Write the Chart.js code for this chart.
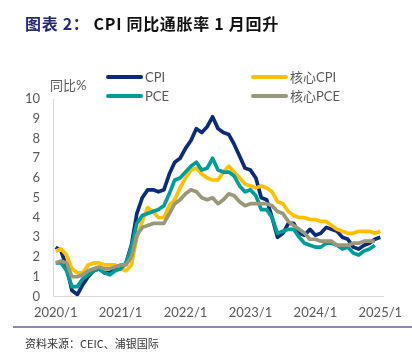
<!DOCTYPE html>
<html>
<head>
<meta charset="utf-8">
<script src="https://cdn.jsdelivr.net/npm/chart.js@4.4.1/dist/chart.umd.min.js"></script>
<style>
  html, body { margin: 0; padding: 0; background: #ffffff; }
  #wrap { position: relative; width: 412px; height: 356px; overflow: hidden; }
  #c { position: absolute; left: 0; top: 0; }
  #title { position: absolute; left: 25px; top: 12px; font-family: "Noto Sans CJK SC", sans-serif; font-weight: bold; font-size: 16px; color: #111111; white-space: nowrap; line-height: 22px; letter-spacing: 0.7px; }
  #title .lead { color: #27277A; margin-right: 4px; }
  #rule { position: absolute; left: 13px; right: 0; top: 326px; height: 2px; background: #8E88B3; }
  #source { position: absolute; left: 25px; top: 335px; font-family: "Noto Sans CJK SC", sans-serif; font-size: 11px; color: #333333; white-space: nowrap; line-height: 16px; }
</style>
</head>
<body>
<div id="wrap">
  <canvas id="c" width="412" height="356"></canvas>
  <div id="title"><span class="lead">图表 2：</span>CPI 同比通胀率 1 月回升</div>
  <div id="rule"></div>
  <div id="source">资料来源：CEIC、浦银国际</div>
</div>
<script>
const months = [
  '2020/1','2020/2','2020/3','2020/4','2020/5','2020/6','2020/7','2020/8','2020/9','2020/10','2020/11','2020/12',
  '2021/1','2021/2','2021/3','2021/4','2021/5','2021/6','2021/7','2021/8','2021/9','2021/10','2021/11','2021/12',
  '2022/1','2022/2','2022/3','2022/4','2022/5','2022/6','2022/7','2022/8','2022/9','2022/10','2022/11','2022/12',
  '2023/1','2023/2','2023/3','2023/4','2023/5','2023/6','2023/7','2023/8','2023/9','2023/10','2023/11','2023/12',
  '2024/1','2024/2','2024/3','2024/4','2024/5','2024/6','2024/7','2024/8','2024/9','2024/10','2024/11','2024/12',
  '2025/1'
];
const tickLabels = ['2020/1','2021/1','2022/1','2023/1','2024/1','2025/1'];
const yTicks = [0,1,2,3,4,5,6,7,8,9,10];

const cpi = [
  2.5,2.3,1.5,0.3,0.1,0.6,1.0,1.3,1.4,1.2,1.2,1.4,
  1.4,1.7,2.6,4.2,5.0,5.4,5.4,5.3,5.4,6.2,6.8,7.0,
  7.5,7.9,8.5,8.3,8.6,9.1,8.5,8.3,8.2,7.7,7.1,6.5,
  6.4,6.0,5.0,4.9,4.0,3.0,3.2,3.7,3.7,3.2,3.1,3.4,
  3.1,3.2,3.5,3.4,3.3,3.0,2.9,2.5,2.4,2.6,2.7,2.9,
  3.0
];
const coreCpi = [
  2.3,2.4,2.1,1.4,1.2,1.2,1.6,1.7,1.7,1.6,1.6,1.6,
  1.4,1.3,1.6,3.0,3.8,4.5,4.3,4.0,4.0,4.6,4.9,5.5,
  6.0,6.4,6.5,6.2,6.0,5.9,5.9,6.3,6.6,6.3,6.0,5.7,
  5.6,5.5,5.6,5.5,5.3,4.8,4.7,4.3,4.1,4.0,4.0,3.9,
  3.9,3.8,3.8,3.6,3.4,3.3,3.2,3.2,3.3,3.3,3.3,3.2,
  3.3
];
const pce = [
  1.7,1.7,1.3,0.5,0.5,0.9,1.1,1.3,1.4,1.2,1.1,1.3,
  1.4,1.7,2.5,3.7,4.1,4.2,4.3,4.4,4.6,5.2,5.9,6.0,
  6.3,6.6,6.8,6.4,6.5,7.0,6.4,6.3,6.3,6.1,5.6,5.3,
  5.4,5.1,4.4,4.4,4.0,3.2,3.3,3.4,3.4,3.0,2.7,2.6,
  2.5,2.5,2.7,2.7,2.6,2.4,2.5,2.2,2.1,2.3,2.4,2.6
];
const corePce = [
  1.7,1.8,1.7,1.0,1.0,1.1,1.3,1.4,1.5,1.4,1.4,1.5,
  1.6,1.6,2.0,3.1,3.5,3.6,3.7,3.7,3.7,4.2,4.7,4.9,
  5.2,5.4,5.3,5.0,4.9,5.0,4.7,4.9,5.2,5.1,4.8,4.6,
  4.7,4.7,4.7,4.7,4.6,4.3,4.2,3.8,3.6,3.4,3.2,2.9,
  2.9,2.8,2.8,2.8,2.6,2.6,2.6,2.7,2.7,2.8,2.8,2.8
];

const seriesNames = ['CPI','核心CPI','PCE','核心PCE'];
const seriesColors = ['#0B2B7D','#FFC000','#009E9A','#99987A'];
const seriesData = [cpi, coreCpi, pce, corePce];

const TICK_FONT = '"Lato", "Noto Sans CJK SC", sans-serif';
const GRAY = '#595959';

// legend + y-axis title drawn on canvas
const legendSlots = [
  {x: 108, y: 77}, {x: 253, y: 77}, {x: 108, y: 96}, {x: 253, y: 96}
];
const extrasPlugin = {
  id: 'extras',
  afterDraw(chart) {
    const ctx = chart.ctx;
    ctx.save();
    ctx.font = '13px ' + TICK_FONT;
    ctx.fillStyle = GRAY;
    ctx.textBaseline = 'middle';
    ctx.textAlign = 'left';
    ctx.fillText('同比%', 50, 86);
    chart.data.datasets.forEach((ds, i) => {
      const s = legendSlots[i];
      ctx.strokeStyle = ds.borderColor;
      ctx.lineWidth = 4;
      ctx.lineCap = 'round';
      ctx.beginPath();
      ctx.moveTo(s.x, s.y);
      ctx.lineTo(s.x + 33, s.y);
      ctx.stroke();
      ctx.fillStyle = GRAY;
      ctx.fillText(ds.label, s.x + 37, s.y + 1);
    });
    ctx.restore();
  }
};

new Chart(document.getElementById('c'), {
  type: 'line',
  data: {
    labels: months,
    datasets: seriesData.map((d, i) => ({
      label: seriesNames[i],
      data: d,
      borderColor: seriesColors[i],
      backgroundColor: seriesColors[i],
      borderWidth: 3.7,
      pointRadius: 0,
      tension: 0,
      fill: false,
      order: 4 - i,
      borderJoinStyle: 'round'
    }))
  },
  options: {
    responsive: false,
    animation: false,
    events: [],
    layout: { padding: { top: 99, right: 29, bottom: 0, left: 0 } },
    plugins: { legend: { display: false }, tooltip: { enabled: false }, title: { display: false } },
    scales: {
      x: {
        type: 'category',
        offset: true,
        grid: { display: false, drawTicks: false },
        border: { display: true, color: '#D9D9D9', width: 1 },
        ticks: {
          autoSkip: false,
          maxRotation: 0,
          padding: 9,
          color: GRAY,
          font: { family: TICK_FONT, size: 13 },
          callback: function(v, idx) {
            const l = months[idx];
            return tickLabels.includes(l) ? l : '';
          }
        },
        afterFit(s) { s.height = 356 - 296.5; }
      },
      y: {
        min: 0, max: 10,
        grid: { display: false, drawTicks: false },
        border: { display: true, color: '#D9D9D9', width: 1 },
        afterBuildTicks(s) { s.ticks = yTicks.map(v => ({ value: v })); },
        ticks: {
          padding: 13,
          color: GRAY,
          font: { family: TICK_FONT, size: 13 }
        },
        afterFit(s) { s.width = 53; }
      }
    }
  },
  plugins: [extrasPlugin]
});
</script>
</body>
</html>
